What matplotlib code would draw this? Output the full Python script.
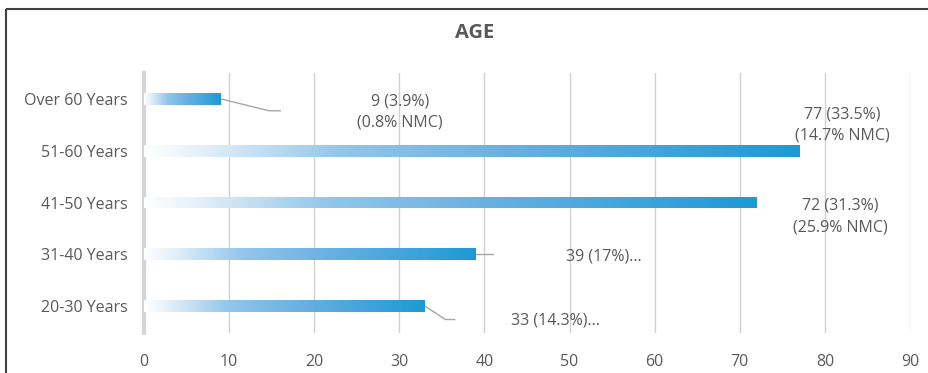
import matplotlib
matplotlib.use("Agg")
import matplotlib.pyplot as plt
import numpy as np
from matplotlib.colors import LinearSegmentedColormap
from matplotlib.lines import Line2D

categories = ["20-30 Years", "31-40 Years", "41-50 Years", "51-60 Years", "Over 60 Years"]
values = [33, 39, 72, 77, 9]
labels = ["33 (14.3%)...", "39 (17%)...", "72 (31.3%)\n(25.9% NMC)",
          "77 (33.5%)\n(14.7% NMC)", "9 (3.9%)\n(0.8% NMC)"]
xticks = [0, 10, 20, 30, 40, 50, 60, 70, 80, 90]
title = "AGE"

plt.rcParams['font.family'] = ['Open Sans', 'DejaVu Sans']
txt = '#595959'

fig = plt.figure(figsize=(9.2805, 3.7305), dpi=100)
ax = fig.add_axes([144/928, 40/373, (910-144)/928, (333-73)/373])

cmap = LinearSegmentedColormap.from_list('g', [(0, '#ffffff'), (0.08, '#e6f1fa'),
                                               (0.3, '#92c6ea'), (0.55, '#6ab1e2'),
                                               (1, '#1d99d6')])
grad = np.linspace(0, 1, 256).reshape(1, -1)
h = 0.23
for i, v in enumerate(values):
    bars = ax.barh(i, v, height=h, color='none', edgecolor='none', zorder=3)
    im = ax.imshow(grad, cmap=cmap, aspect='auto', extent=[0, v, i - h/2, i + h/2], zorder=3)
    im.set_clip_path(bars[0])

ax.set_xlim(0, 90)
ax.set_ylim(-0.52, 4.5)
ax.set_xticks(xticks)
ax.set_yticks(range(len(categories)))
ax.set_yticklabels(categories)
ax.grid(axis='x', color='#d0d0d0', lw=1)
ax.set_axisbelow(True)
for s in ['top', 'right', 'bottom']:
    ax.spines[s].set_visible(False)
ax.spines['left'].set_color('#d4d4d4')
ax.spines['left'].set_linewidth(3)
ax.tick_params(length=0, labelsize=11.5, colors=txt)
ax.tick_params(axis='x', pad=15)
ax.tick_params(axis='y', pad=12)

# data labels with leaders (positions in data coords)
lab_pos = [(43.1, -0.27, 'left'), (49.6, 0.96, 'left'), (81.8, 1.73, 'center'),
           (82.0, 3.5, 'center'), (30.1, 3.75, 'center')]
for i, (x, y, ha) in enumerate(lab_pos):
    ax.text(x, y, labels[i], ha=ha, va='center', fontsize=11.5, color=txt,
            linespacing=1.45, zorder=4)
# leader lines
ax.plot([values[0], 35.4, 36.5], [0, -0.26, -0.26], color='#a6a6a6', lw=1, zorder=2)
ax.plot([values[1], 41.0], [1, 1], color='#a6a6a6', lw=1, zorder=2)
ax.plot([values[4], 14.7, 16.0], [4, 3.77, 3.77], color='#a6a6a6', lw=1, zorder=2)

fig.text(475/928, 1 - 33/373, title, ha='center', va='center', fontsize=14.5,
         fontweight='bold', color=txt)

yt = 1 - 9.5/373
xl = 5.5/928
fig.add_artist(Line2D([xl, 1.0], [yt, yt], transform=fig.transFigure, color='#404040',
                      lw=1.5, solid_capstyle='butt'))
fig.add_artist(Line2D([xl, xl], [yt, 0.0], transform=fig.transFigure, color='#404040',
                      lw=1.5, solid_capstyle='butt'))

fig.savefig('out.png', dpi=100)
